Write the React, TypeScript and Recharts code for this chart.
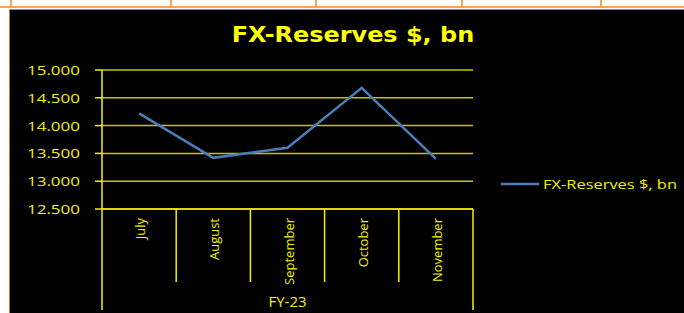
import { LineChart, Line, XAxis, YAxis, CartesianGrid, Legend } from "recharts";

const months = ["July", "August", "September", "October", "November"];
const reserves = [14.22, 13.42, 13.6, 14.68, 13.4];
const yTicks = [12.5, 13, 13.5, 14, 14.5, 15];
const groupLabel = "FY-23";
const seriesName = "FX-Reserves $, bn";

const data = months.map((m, i) => ({ month: m, value: reserves[i] }));

const YELLOW = "#f2f200";
const GRID = "#c4c400";
const FONT = "'Open Sans', sans-serif";

const MonthTick = (props: any) => {
  const { x, y, payload, index } = props;
  const half = payload.offset || 37;
  const last = index === months.length - 1;
  return (
    <g>
      <line x1={x - half} y1={y} x2={x - half} y2={y + (index === 0 ? 101 : 73)} stroke={YELLOW} strokeWidth={1.5} />
      {last && <line x1={x + half} y1={y} x2={x + half} y2={y + 101} stroke={YELLOW} strokeWidth={1.5} />}
      <text
        x={x + 1}
        y={y + 9}
        transform={`rotate(-90, ${x + 1}, ${y + 9})`}
        textAnchor="end"
        dominantBaseline="central"
        fill={YELLOW}
        fontSize={13}
        fontFamily={FONT}
      >
        {payload.value}
      </text>
    </g>
  );
};

const ValueTick = (props: any) => {
  const { x, y, payload } = props;
  const label = Number(payload.value).toFixed(3);
  return (
    <text x={x} y={y} textAnchor="end" dominantBaseline="central" fill={YELLOW} fontSize={13} fontFamily={FONT} textLength={53} lengthAdjust="spacingAndGlyphs">
      {label}
    </text>
  );
};

const LegendContent = (props: any) => {
  const item = props.payload?.[0];
  return (
    <svg width={190} height={20}>
      <line x1={0} y1={10} x2={38} y2={10} stroke={item?.color || "#4a7ebb"} strokeWidth={2.5} />
      <text x={42} y={10} dominantBaseline="central" fill={YELLOW} fontSize={13} fontFamily={FONT} textLength={134} lengthAdjust="spacingAndGlyphs">
        {item?.value}
      </text>
    </svg>
  );
};

export default function App() {
  const orangeX = [10, 170, 315, 461, 600];
  return (
    <div style={{ position: "absolute", left: 0, top: 0, width: 684, height: 313, background: "#fff", overflow: "hidden" }}>
      <div style={{ position: "absolute", left: 0, top: 6, width: 684, height: 2, background: "#f5a55a" }} />
      {orangeX.map((x) => (
        <div key={x} style={{ position: "absolute", left: x, top: 0, width: 2, height: 8, background: "#f5a55a" }} />
      ))}
      <div
        style={{
          position: "absolute",
          left: 9,
          top: 9,
          width: 680,
          height: 310,
          background: "#000",
          border: "1px solid #9a9a00",
        }}
      >
        <div
          style={{
            position: "absolute",
            left: 0,
            top: 13,
            width: 686,
            textAlign: "center",
            color: "#ffff00",
            fontFamily: "'DejaVu Sans', sans-serif",
            fontWeight: 700,
            fontSize: 21,
            transform: "scaleX(1.14)",
            transformOrigin: "center",
          }}
        >
          FX-Reserves $, bn
        </div>
        <LineChart width={674} height={303} data={data} margin={{ top: 60, right: 211, left: 0, bottom: 0 }}>
          <CartesianGrid vertical={false} stroke={GRID} strokeWidth={1.5} />
          <XAxis
            dataKey="month"
            scale="band"
            height={104}
            tickSize={0}
            tickMargin={0}
            tickLine={false}
            axisLine={{ stroke: YELLOW, strokeWidth: 1.5 }}
            tick={<MonthTick />}
            interval={0}
            label={{ value: groupLabel, position: "insideBottom", offset: 6, fill: YELLOW, fontSize: 15, fontFamily: FONT }}
          />
          <YAxis
            width={92}
            domain={[12.5, 15]}
            ticks={yTicks}
            tickSize={7}
            tickMargin={15}
            tickLine={{ stroke: YELLOW, strokeWidth: 1.5 }}
            axisLine={{ stroke: YELLOW, strokeWidth: 1.5 }}
            tick={<ValueTick />}
          />
          <Legend
            layout="vertical"
            verticalAlign="middle"
            align="center"
            wrapperStyle={{ left: 491, top: 164, width: 190 }}
            content={<LegendContent />}
          />
          <Line
            type="linear"
            dataKey="value"
            name={seriesName}
            stroke="#4a7ebb"
            strokeWidth={2.5}
            dot={false}
            isAnimationActive={false}
          />
        </LineChart>
      </div>
    </div>
  );
}
